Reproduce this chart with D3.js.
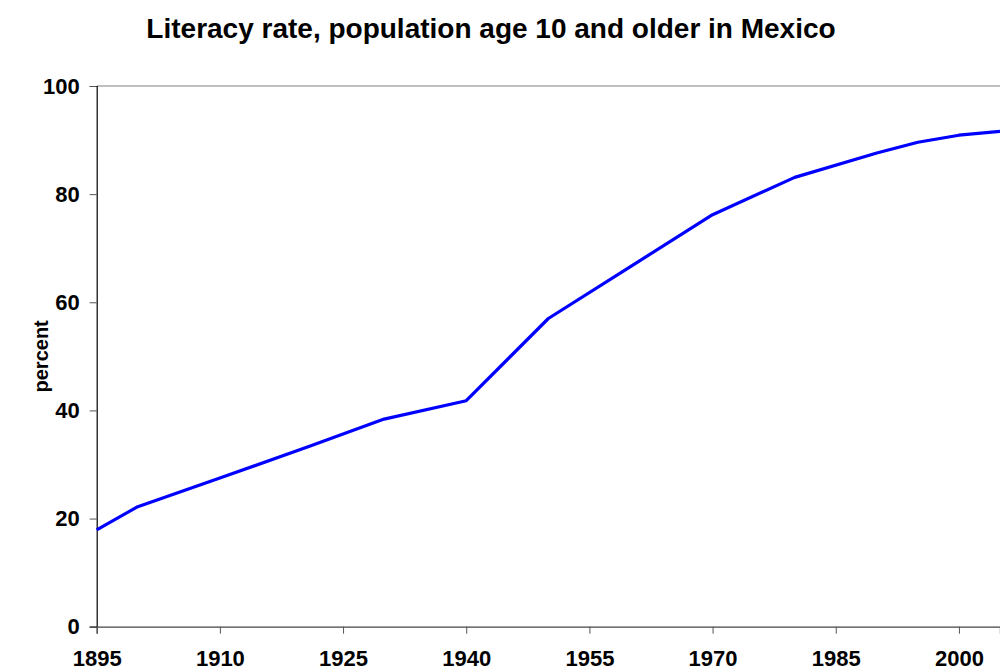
<!DOCTYPE html>
<html>
<head>
<meta charset="utf-8">
<script src="https://cdn.jsdelivr.net/npm/d3@7"></script>
<style>
  html, body { margin: 0; padding: 0; background: #fff; }
  svg { display: block; font-family: "Liberation Sans", Arial, sans-serif; }
</style>
</head>
<body>
<svg id="chart" width="1000" height="671"></svg>
<script>
const titleText = "Literacy rate, population age 10 and older in Mexico";
const yAxisLabel = "percent";
const years =   [1895, 1900, 1910, 1921, 1930, 1940, 1950, 1960, 1970, 1980, 1990, 1995, 2000, 2005];
const literacy = [17.9, 22.2, 27.5, 33.4, 38.4, 41.8, 57.0, 66.6, 76.2, 83.1, 87.6, 89.6, 90.9, 91.6];
const xTicks = [1895, 1910, 1925, 1940, 1955, 1970, 1985, 2000];
const yTicks = [0, 20, 40, 60, 80, 100];

const svg = d3.select("#chart");
const margin = { left: 96.7, right: 0, top: 86, bottom: 44.3 };
const W = 1000, H = 671;
const FONT = "'Liberation Sans', Arial, sans-serif";

const x = d3.scaleLinear().domain([1895, 2005]).range([margin.left, W - margin.right]);
const y = d3.scaleLinear().domain([0, 100]).range([H - margin.bottom, margin.top]);

// top border
svg.append("line")
  .attr("x1", x(1895)).attr("x2", W)
  .attr("y1", y(100)).attr("y2", y(100))
  .attr("stroke", "#808080").attr("stroke-width", 1);

// Y axis
const yAxis = svg.append("g")
  .attr("transform", `translate(${x(1895)},0)`)
  .call(d3.axisLeft(y).tickValues(yTicks).tickSize(7).tickPadding(10).tickFormat(d3.format("d")));
yAxis.select(".domain").attr("stroke", "#000").attr("stroke-width", 1.2);
yAxis.selectAll(".tick line").attr("stroke", "#555");
yAxis.selectAll(".tick text")
  .attr("font-size", "22px").attr("font-weight", "bold").attr("fill", "#000")
  .attr("font-family", FONT);

// X axis
const xAxis = svg.append("g")
  .attr("transform", `translate(0,${y(0)})`)
  .call(d3.axisBottom(x).tickValues(xTicks).tickSize(7).tickPadding(17).tickFormat(d3.format("d")));
xAxis.select(".domain").attr("stroke", "#444").attr("stroke-width", 1.3);
xAxis.selectAll(".tick line").attr("stroke", "#555");
xAxis.selectAll(".tick text")
  .attr("font-size", "22px").attr("font-weight", "bold").attr("fill", "#000")
  .attr("font-family", FONT);

// line
const data = years.map((yr, i) => ({ year: yr, value: literacy[i] }));
svg.append("path")
  .datum(data)
  .attr("fill", "none")
  .attr("stroke", "#0000FF")
  .attr("stroke-width", 3.2)
  .attr("stroke-linejoin", "round")
  .attr("d", d3.line().x(d => x(d.year)).y(d => y(d.value)));

// title
svg.append("text")
  .attr("x", 491).attr("y", 38)
  .attr("text-anchor", "middle")
  .attr("font-size", "28px").attr("font-weight", "bold")
  .attr("font-family", FONT)
  .text(titleText);

// y label
svg.append("text")
  .attr("transform", `translate(48,${(y(0) + y(100)) / 2}) rotate(-90)`)
  .attr("text-anchor", "middle")
  .attr("font-size", "20px").attr("font-weight", "bold")
  .attr("font-family", FONT)
  .text(yAxisLabel);
</script>
</body>
</html>
